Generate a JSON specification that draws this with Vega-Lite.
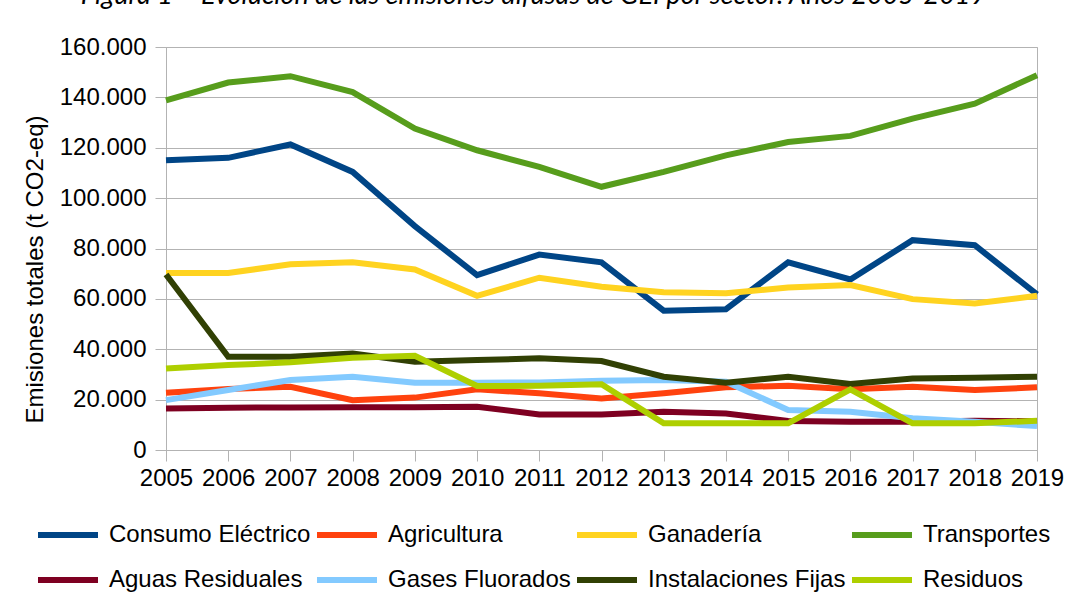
{
  "$schema": "https://vega.github.io/schema/vega-lite/v6.json",
  "width": 871,
  "height": 403,
  "autosize": {"type": "none"},
  "padding": {"left": 166, "top": 47, "right": 30, "bottom": 159},
  "background": "white",
  "title": {
    "text": "Figura 1 – Evolución de las emisiones difusas de GEI por sector. Años 2005-2019",
    "font": "Lato",
    "fontStyle": "italic",
    "fontWeight": "normal",
    "fontSize": 27,
    "color": "black",
    "anchor": "middle",
    "frame": "group",
    "dx": -68,
    "baseline": "alphabetic"
  },
  "data": {
    "values": [
      {"año": 2005, "sector": "Consumo Eléctrico", "emisiones": 115000},
      {"año": 2006, "sector": "Consumo Eléctrico", "emisiones": 116000},
      {"año": 2007, "sector": "Consumo Eléctrico", "emisiones": 121300},
      {"año": 2008, "sector": "Consumo Eléctrico", "emisiones": 110400},
      {"año": 2009, "sector": "Consumo Eléctrico", "emisiones": 88900},
      {"año": 2010, "sector": "Consumo Eléctrico", "emisiones": 69400},
      {"año": 2011, "sector": "Consumo Eléctrico", "emisiones": 77600},
      {"año": 2012, "sector": "Consumo Eléctrico", "emisiones": 74500},
      {"año": 2013, "sector": "Consumo Eléctrico", "emisiones": 55300},
      {"año": 2014, "sector": "Consumo Eléctrico", "emisiones": 55900},
      {"año": 2015, "sector": "Consumo Eléctrico", "emisiones": 74500},
      {"año": 2016, "sector": "Consumo Eléctrico", "emisiones": 67700},
      {"año": 2017, "sector": "Consumo Eléctrico", "emisiones": 83300},
      {"año": 2018, "sector": "Consumo Eléctrico", "emisiones": 81300},
      {"año": 2019, "sector": "Consumo Eléctrico", "emisiones": 61800},
      {"año": 2005, "sector": "Agricultura", "emisiones": 22700},
      {"año": 2006, "sector": "Agricultura", "emisiones": 24200},
      {"año": 2007, "sector": "Agricultura", "emisiones": 25100},
      {"año": 2008, "sector": "Agricultura", "emisiones": 19800},
      {"año": 2009, "sector": "Agricultura", "emisiones": 20800},
      {"año": 2010, "sector": "Agricultura", "emisiones": 24100},
      {"año": 2011, "sector": "Agricultura", "emisiones": 22500},
      {"año": 2012, "sector": "Agricultura", "emisiones": 20500},
      {"año": 2013, "sector": "Agricultura", "emisiones": 22500},
      {"año": 2014, "sector": "Agricultura", "emisiones": 24900},
      {"año": 2015, "sector": "Agricultura", "emisiones": 25500},
      {"año": 2016, "sector": "Agricultura", "emisiones": 24100},
      {"año": 2017, "sector": "Agricultura", "emisiones": 25100},
      {"año": 2018, "sector": "Agricultura", "emisiones": 23800},
      {"año": 2019, "sector": "Agricultura", "emisiones": 24900},
      {"año": 2005, "sector": "Ganadería", "emisiones": 70300},
      {"año": 2006, "sector": "Ganadería", "emisiones": 70300},
      {"año": 2007, "sector": "Ganadería", "emisiones": 73700},
      {"año": 2008, "sector": "Ganadería", "emisiones": 74500},
      {"año": 2009, "sector": "Ganadería", "emisiones": 71700},
      {"año": 2010, "sector": "Ganadería", "emisiones": 61200},
      {"año": 2011, "sector": "Ganadería", "emisiones": 68400},
      {"año": 2012, "sector": "Ganadería", "emisiones": 64800},
      {"año": 2013, "sector": "Ganadería", "emisiones": 62600},
      {"año": 2014, "sector": "Ganadería", "emisiones": 62200},
      {"año": 2015, "sector": "Ganadería", "emisiones": 64500},
      {"año": 2016, "sector": "Ganadería", "emisiones": 65500},
      {"año": 2017, "sector": "Ganadería", "emisiones": 59900},
      {"año": 2018, "sector": "Ganadería", "emisiones": 58200},
      {"año": 2019, "sector": "Ganadería", "emisiones": 61200},
      {"año": 2005, "sector": "Transportes", "emisiones": 138800},
      {"año": 2006, "sector": "Transportes", "emisiones": 145900},
      {"año": 2007, "sector": "Transportes", "emisiones": 148400},
      {"año": 2008, "sector": "Transportes", "emisiones": 142100},
      {"año": 2009, "sector": "Transportes", "emisiones": 127600},
      {"año": 2010, "sector": "Transportes", "emisiones": 119000},
      {"año": 2011, "sector": "Transportes", "emisiones": 112400},
      {"año": 2012, "sector": "Transportes", "emisiones": 104500},
      {"año": 2013, "sector": "Transportes", "emisiones": 110400},
      {"año": 2014, "sector": "Transportes", "emisiones": 117000},
      {"año": 2015, "sector": "Transportes", "emisiones": 122300},
      {"año": 2016, "sector": "Transportes", "emisiones": 124700},
      {"año": 2017, "sector": "Transportes", "emisiones": 131600},
      {"año": 2018, "sector": "Transportes", "emisiones": 137500},
      {"año": 2019, "sector": "Transportes", "emisiones": 148800},
      {"año": 2005, "sector": "Aguas Residuales", "emisiones": 16500},
      {"año": 2006, "sector": "Aguas Residuales", "emisiones": 16800},
      {"año": 2007, "sector": "Aguas Residuales", "emisiones": 16900},
      {"año": 2008, "sector": "Aguas Residuales", "emisiones": 17000},
      {"año": 2009, "sector": "Aguas Residuales", "emisiones": 17000},
      {"año": 2010, "sector": "Aguas Residuales", "emisiones": 17200},
      {"año": 2011, "sector": "Aguas Residuales", "emisiones": 14100},
      {"año": 2012, "sector": "Aguas Residuales", "emisiones": 14100},
      {"año": 2013, "sector": "Aguas Residuales", "emisiones": 15200},
      {"año": 2014, "sector": "Aguas Residuales", "emisiones": 14500},
      {"año": 2015, "sector": "Aguas Residuales", "emisiones": 11500},
      {"año": 2016, "sector": "Aguas Residuales", "emisiones": 11200},
      {"año": 2017, "sector": "Aguas Residuales", "emisiones": 11200},
      {"año": 2018, "sector": "Aguas Residuales", "emisiones": 11600},
      {"año": 2019, "sector": "Aguas Residuales", "emisiones": 11400},
      {"año": 2005, "sector": "Gases Fluorados", "emisiones": 19800},
      {"año": 2006, "sector": "Gases Fluorados", "emisiones": 23800},
      {"año": 2007, "sector": "Gases Fluorados", "emisiones": 27800},
      {"año": 2008, "sector": "Gases Fluorados", "emisiones": 29100},
      {"año": 2009, "sector": "Gases Fluorados", "emisiones": 26700},
      {"año": 2010, "sector": "Gases Fluorados", "emisiones": 26700},
      {"año": 2011, "sector": "Gases Fluorados", "emisiones": 26800},
      {"año": 2012, "sector": "Gases Fluorados", "emisiones": 27500},
      {"año": 2013, "sector": "Gases Fluorados", "emisiones": 27800},
      {"año": 2014, "sector": "Gases Fluorados", "emisiones": 27100},
      {"año": 2015, "sector": "Gases Fluorados", "emisiones": 15900},
      {"año": 2016, "sector": "Gases Fluorados", "emisiones": 15200},
      {"año": 2017, "sector": "Gases Fluorados", "emisiones": 12600},
      {"año": 2018, "sector": "Gases Fluorados", "emisiones": 11200},
      {"año": 2019, "sector": "Gases Fluorados", "emisiones": 9500},
      {"año": 2005, "sector": "Instalaciones Fijas", "emisiones": 69700},
      {"año": 2006, "sector": "Instalaciones Fijas", "emisiones": 37000},
      {"año": 2007, "sector": "Instalaciones Fijas", "emisiones": 37000},
      {"año": 2008, "sector": "Instalaciones Fijas", "emisiones": 38300},
      {"año": 2009, "sector": "Instalaciones Fijas", "emisiones": 35000},
      {"año": 2010, "sector": "Instalaciones Fijas", "emisiones": 35700},
      {"año": 2011, "sector": "Instalaciones Fijas", "emisiones": 36400},
      {"año": 2012, "sector": "Instalaciones Fijas", "emisiones": 35300},
      {"año": 2013, "sector": "Instalaciones Fijas", "emisiones": 29100},
      {"año": 2014, "sector": "Instalaciones Fijas", "emisiones": 26700},
      {"año": 2015, "sector": "Instalaciones Fijas", "emisiones": 29100},
      {"año": 2016, "sector": "Instalaciones Fijas", "emisiones": 26200},
      {"año": 2017, "sector": "Instalaciones Fijas", "emisiones": 28400},
      {"año": 2018, "sector": "Instalaciones Fijas", "emisiones": 28700},
      {"año": 2019, "sector": "Instalaciones Fijas", "emisiones": 29100},
      {"año": 2005, "sector": "Residuos", "emisiones": 32400},
      {"año": 2006, "sector": "Residuos", "emisiones": 33700},
      {"año": 2007, "sector": "Residuos", "emisiones": 34800},
      {"año": 2008, "sector": "Residuos", "emisiones": 36600},
      {"año": 2009, "sector": "Residuos", "emisiones": 37400},
      {"año": 2010, "sector": "Residuos", "emisiones": 25400},
      {"año": 2011, "sector": "Residuos", "emisiones": 25500},
      {"año": 2012, "sector": "Residuos", "emisiones": 26100},
      {"año": 2013, "sector": "Residuos", "emisiones": 10600},
      {"año": 2014, "sector": "Residuos", "emisiones": 10600},
      {"año": 2015, "sector": "Residuos", "emisiones": 10600},
      {"año": 2016, "sector": "Residuos", "emisiones": 24100},
      {"año": 2017, "sector": "Residuos", "emisiones": 10600},
      {"año": 2018, "sector": "Residuos", "emisiones": 10600},
      {"año": 2019, "sector": "Residuos", "emisiones": 11600}
    ]
  },
  "mark": {"type": "line", "strokeWidth": 6},
  "encoding": {
    "x": {
      "field": "año",
      "type": "quantitative",
      "scale": {"domain": [2005, 2019], "nice": false, "zero": false},
      "axis": {
        "title": null,
        "values": [2005, 2006, 2007, 2008, 2009, 2010, 2011, 2012, 2013, 2014, 2015, 2016, 2017, 2018, 2019],
        "format": "d",
        "grid": false,
        "labelOverlap": false,
        "labelFlush": false,
        "labelPadding": 5
      }
    },
    "y": {
      "field": "emisiones",
      "type": "quantitative",
      "scale": {"domain": [0, 160000], "nice": false},
      "axis": {
        "title": "Emisiones totales (t CO2-eq)",
        "values": [0, 20000, 40000, 60000, 80000, 100000, 120000, 140000, 160000],
        "labelExpr": "replace(format(datum.value, ','), ',', '.')",
        "grid": true,
        "labelPadding": 9,
        "titlePadding": 12,
        "titleY": 222
      }
    },
    "color": {
      "field": "sector",
      "type": "nominal",
      "sort": null,
      "scale": {
        "domain": ["Consumo Eléctrico", "Agricultura", "Ganadería", "Transportes", "Aguas Residuales", "Gases Fluorados", "Instalaciones Fijas", "Residuos"],
        "range": ["#004586", "#ff420e", "#ffd320", "#579d1c", "#7e0021", "#83caff", "#314004", "#aecf00"]
      },
      "legend": {
        "title": null,
        "orient": "none",
        "direction": "horizontal",
        "legendX": -131,
        "legendY": 455,
        "columns": 4,
        "columnPadding": -6,
        "rowPadding": -12,
        "padding": 0,
        "symbolType": "stroke",
        "symbolSize": 3600,
        "symbolStrokeWidth": 6,
        "labelFont": "Liberation Sans",
        "labelFontSize": 24,
        "labelColor": "black",
        "labelOffset": 8,
        "labelLimit": 400
      }
    }
  },
  "config": {
    "view": {"stroke": "#b3b3b3", "strokeWidth": 1},
    "axis": {
      "labelFont": "Liberation Sans",
      "labelFontSize": 24,
      "labelColor": "black",
      "titleFont": "Liberation Sans",
      "titleFontSize": 24,
      "titleFontWeight": "normal",
      "titleColor": "black",
      "domainColor": "#b3b3b3",
      "tickColor": "#b3b3b3",
      "gridColor": "#b3b3b3",
      "tickSize": 11,
      "domainWidth": 1,
      "tickWidth": 1,
      "gridWidth": 1
    }
  }
}
